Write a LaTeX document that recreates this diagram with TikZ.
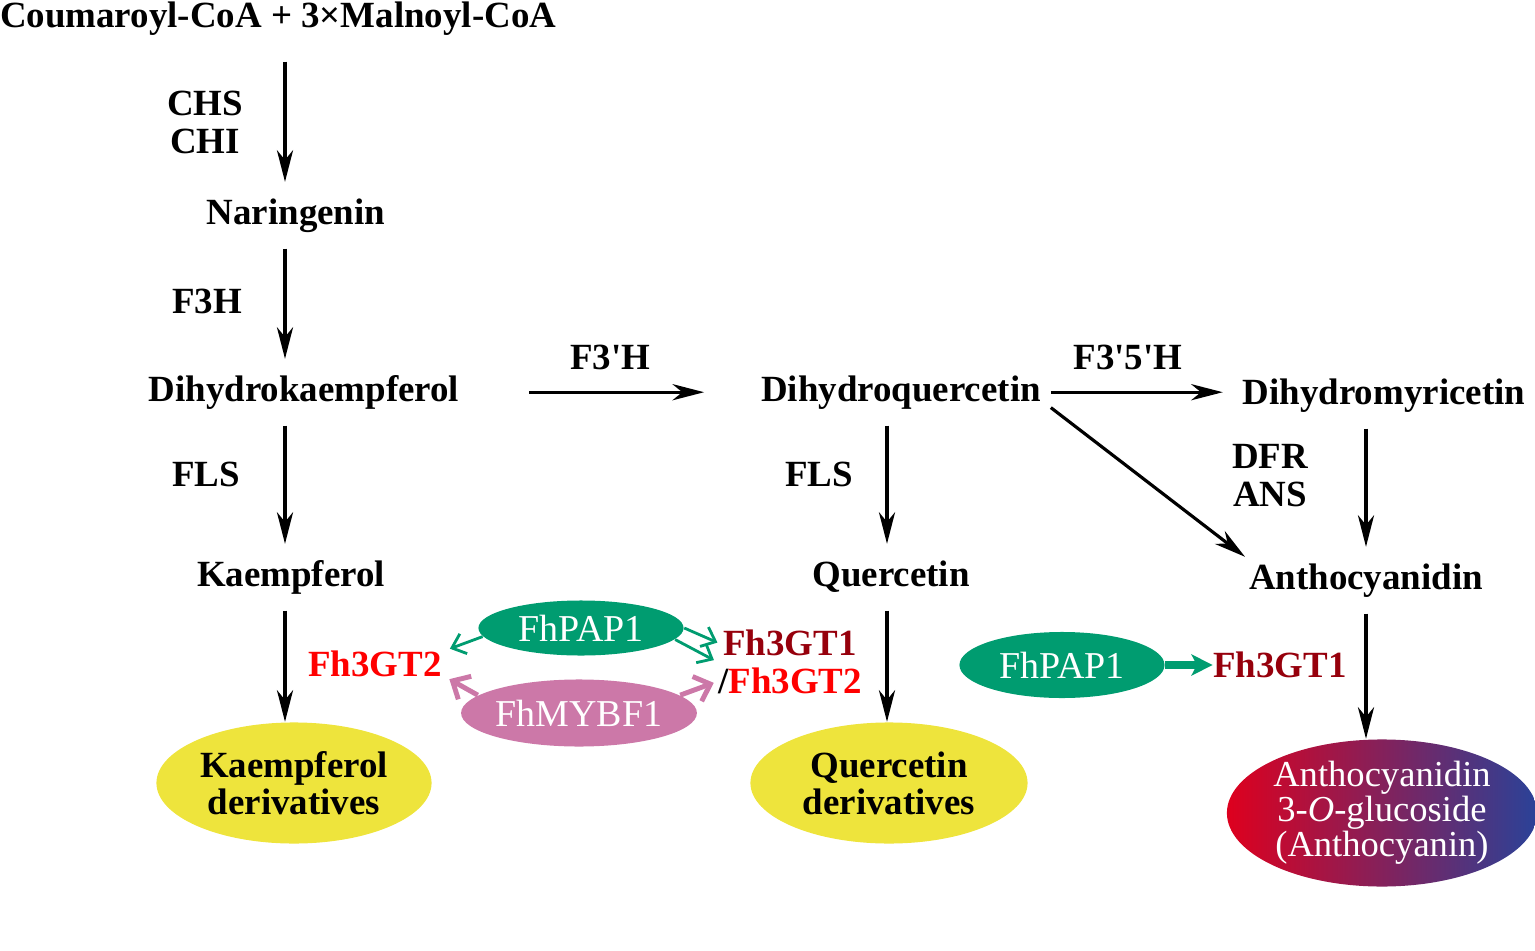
\documentclass[tikz,border=0pt]{standalone}
\usepackage{fontspec}
\setmainfont{Liberation Serif}
\usetikzlibrary{arrows.meta,shapes.geometric}
\definecolor{papgreen}{RGB}{0,156,112}
\definecolor{mybpink}{RGB}{204,120,168}
\definecolor{derivyellow}{RGB}{238,228,60}
\definecolor{gtdark}{RGB}{150,0,12}
\definecolor{gtred}{RGB}{255,0,0}
\definecolor{antred}{RGB}{222,0,30}
\definecolor{antblue}{RGB}{42,66,152}

\begin{document}
\begin{tikzpicture}[x=0.01cm,y=-0.01cm,
  compound/.style={font=\fontsize{10.5}{12}\selectfont\bfseries,inner sep=0pt,outer xsep=0pt,outer ysep=5pt,text height=7pt,text depth=2pt,anchor=base},
  enzyme/.style={font=\fontsize{10.5}{10.8}\selectfont\bfseries,align=center,inner sep=0pt,anchor=base},
  gene/.style={font=\fontsize{10.5}{10.8}\selectfont\bfseries,align=center,inner sep=0pt},
  tf node/.style={ellipse,text=white,font=\fontsize{10.8}{12}\selectfont,inner sep=0pt},
  product/.style={ellipse,fill=derivyellow,align=center,font=\fontsize{10.5}{10.5}\selectfont\bfseries,inner sep=0pt},
  arr/.style={-{Stealth[length=9pt,width=4.6pt,inset=2.8pt]},line width=0.9pt},
  pap arr/.style={-{Straight Barb[length=3.5pt,width=6pt]},line width=0.8pt,draw=papgreen},
  myb arr/.style={-{Straight Barb[length=4pt,width=7.5pt]},line width=1.4pt,draw=mybpink}]
\useasboundingbox (0,0) rectangle (1535,951);
%columns
\coordinate (c1) at (285,0);
\coordinate (c2) at (887,0);
\coordinate (c3) at (1366,0);
%nodes
\node[compound,anchor=base west] (cou) at (0,27) {Coumaroyl-CoA + 3×Malnoyl-CoA};
\node[compound] (nar) at (296,224) {Naringenin};
\node[compound] (dhk) at (304,401) {Dihydrokaempferol};
\node[compound] (dhq) at (901,401) {Dihydroquercetin};
\node[compound] (dhm) at (1384,404) {Dihydromyricetin};
\node[compound] (kae) at (291,586) {Kaempferol};
\node[compound] (que) at (891,586) {Quercetin};
\node[compound] (ant) at (1366,589) {Anthocyanidin};
\node[enzyme,anchor=center] (chs) at (205,122) {CHS\\CHI};
\node[enzyme] (f3h) at (207,313) {F3H};
\node[enzyme] (f3dh) at (610,369) {F3\textquotesingle H};
\node[enzyme] (f35h) at (1128,369) {F3\textquotesingle 5\textquotesingle H};
\node[enzyme] (fls1) at (206,486) {FLS};
\node[enzyme] (fls2) at (819,486) {FLS};
\node[enzyme,anchor=center] (dfr) at (1270,476) {DFR\\ANS};
\node[product,minimum width=2.75cm,minimum height=1.21cm] (kd) at (294,783) {Kaempferol\\derivatives};
\node[product,minimum width=2.77cm,minimum height=1.21cm] (qd) at (889,783) {Quercetin\\derivatives};
\node[ellipse,left color=antred,right color=antblue,text=white,align=center,inner sep=0pt,
  minimum width=3.1cm,minimum height=1.47cm,font=\fontsize{10.4}{10.4}\selectfont] (acg) at (1382,813)
  {Anthocyanidin\\[-0.5pt]3-\textit{O}-glucoside\\[-0.5pt](Anthocyanin)};
\node[tf node,fill=papgreen,minimum width=2.05cm,minimum height=0.55cm] (pap) at (581,628) {FhPAP1};
\node[tf node,fill=mybpink,minimum width=2.12cm,minimum height=0.67cm] (myb) at (579,713) {FhMYBF1};
\node[tf node,fill=papgreen,minimum width=2.05cm,minimum height=0.66cm] (pap2) at (1062,665) {FhPAP1};
\node[gene,text=gtred,anchor=base] (gt2) at (375,676) {Fh3GT2};
\node[gene] (gt12) at (790,662) {{\color{gtdark}Fh3GT1}\\/{\color{gtred}Fh3GT2}};
\node[gene,text=gtdark,anchor=base] (gt1) at (1280,677) {Fh3GT1};
%Edges
\path (cou.south -| c1) edge[arr,shorten <=0.1cm] (nar.north -| c1)
      (nar.south -| c1) edge[arr] (dhk.north -| c1)
      (dhk.south -| c1) edge[arr] (kae.north -| c1)
      (kae.south -| c1) edge[arr] (kd.north -| c1)
      (dhq.south -| c2) edge[arr] (que.north -| c2)
      (que.south -| c2) edge[arr] (qd.north -| c2)
      (dhm.south -| c3) edge[arr] (ant.north -| c3)
      (ant.south -| c3) edge[arr] (acg.north -| c3);
\path (dhk.east) edge[arr,shorten <=0.7cm,shorten >=0.57cm] (dhq.west)
      (dhq.east) edge[arr,shorten <=0.1cm,shorten >=0.2cm] (dhm.west |- dhq.east)
      ([shift={(10,-18)}]dhq.south east) edge[arr] ([shift={(-4,10)}]ant.north west);
\path (pap.185) edge[pap arr,shorten >=0.08cm] (gt2.10)
      (pap.0) edge[pap arr] (gt12.165)
      (pap.-7) edge[pap arr,shorten >=0.04cm] (gt12.west)
      (myb.170) edge[myb arr,shorten >=0.08cm] (gt2.-10)
      (myb.10) edge[myb arr,shorten >=0.04cm] (gt12.195)
      (pap2.east) edge[-{Stealth[length=6pt,width=6pt,inset=1.5pt]},line width=2pt,draw=papgreen] (gt1.west |- pap2.east);
\end{tikzpicture}
\end{document}
